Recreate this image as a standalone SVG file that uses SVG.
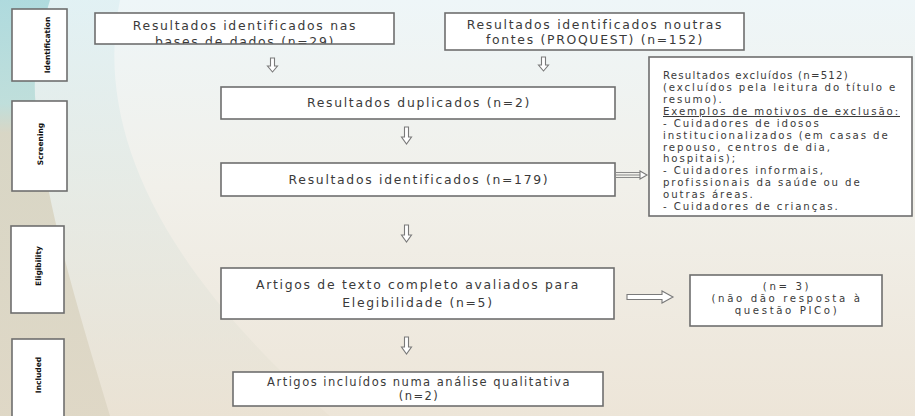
<svg xmlns="http://www.w3.org/2000/svg" width="915" height="416" viewBox="0 0 915 416">
<defs>
<linearGradient id="bg" x1="0" y1="0" x2="0" y2="1">
<stop offset="0" stop-color="#eef6f8"/>
<stop offset="0.45" stop-color="#f1f0ea"/>
<stop offset="1" stop-color="#ede5d8"/>
</linearGradient>
<linearGradient id="strip" x1="0" y1="0" x2="0" y2="1">
<stop offset="0" stop-color="#a6d6da"/>
<stop offset="0.25" stop-color="#b9dcd8"/>
<stop offset="0.32" stop-color="#d6d2bf"/>
<stop offset="1" stop-color="#ddd6c4"/>
</linearGradient>
<linearGradient id="wedge" x1="0" y1="0" x2="0" y2="1">
<stop offset="0" stop-color="#dceff2"/>
<stop offset="1" stop-color="#e9e1d2"/>
</linearGradient>
<clipPath id="c1"><rect x="95" y="14" width="298" height="29.5"/></clipPath>
<style>
.box{fill:#fff;stroke:#6e6e6e;stroke-width:1.6}
.t{font-family:"DejaVu Sans",sans-serif;font-size:12.4px;fill:#3a3a3a;letter-spacing:1.7px}
.ti{font-family:"DejaVu Sans",sans-serif;font-size:11.5px;fill:#3a3a3a;letter-spacing:1.5px}
.tl{font-family:"DejaVu Sans",sans-serif;font-size:10.2px;fill:#3a3a3a;letter-spacing:1.9px}
.ts{font-family:"DejaVu Sans",sans-serif;font-size:10.2px;fill:#3a3a3a;letter-spacing:2.6px}
.lab{font-family:"DejaVu Sans",sans-serif;font-size:7.5px;font-weight:bold;fill:#111}
.arr{fill:#fff;stroke:#7a7a7a;stroke-width:1.1}
</style>
</defs>
<rect width="915" height="416" fill="url(#bg)"/>
<path d="M0,0 L120,0 C95,120 150,260 330,416 L0,416 Z" fill="url(#wedge)" opacity="0.7"/>
<path d="M0,0 L50,0 C38,40 30,80 38,120 C45,200 75,300 110,416 L0,416 Z" fill="url(#strip)" opacity="0.85"/>

<g id="stage-identification">
<rect class="box" x="12" y="9" width="55" height="72"/>
<text class="lab" transform="translate(50,45) rotate(-90)" text-anchor="middle">Identification</text>
</g>
<g id="stage-screening">
<rect class="box" x="12" y="101" width="55" height="90"/>
<text class="lab" transform="translate(43,144) rotate(-90)" text-anchor="middle">Screening</text>
</g>
<g id="stage-eligibility">
<rect class="box" x="11" y="226" width="53" height="87"/>
<text class="lab" transform="translate(41,266) rotate(-90)" text-anchor="middle">Eligibility</text>
</g>
<g id="stage-included">
<rect class="box" x="12" y="339" width="52" height="82"/>
<text class="lab" transform="translate(41,375) rotate(-90)" text-anchor="middle">Included</text>
</g>

<g id="n-databases">
<rect class="box" x="95" y="13" width="299" height="31"/>
<text class="t" x="245" y="30" text-anchor="middle">Resultados identificados nas</text>
<text class="t" x="245" y="46" text-anchor="middle" clip-path="url(#c1)">bases de dados (n=29)</text>
</g>
<g id="n-other">
<rect class="box" x="445" y="13" width="299" height="37"/>
<text class="t" x="595" y="29" text-anchor="middle">Resultados identificados noutras</text>
<text class="t" x="595" y="44" text-anchor="middle">fontes (PROQUEST) (n=152)</text>
</g>
<g id="n-duplicates">
<rect class="box" x="221" y="87" width="394" height="32"/>
<text class="t" x="419" y="107" text-anchor="middle">Resultados duplicados (n=2)</text>
</g>
<g id="n-identified">
<rect class="box" x="221" y="163" width="394" height="33"/>
<text class="t" x="419" y="184" text-anchor="middle">Resultados identificados (n=179)</text>
</g>
<g id="n-excluded">
<rect class="box" x="649" y="57" width="263" height="159"/>
<text class="tl" x="663" y="79" style="letter-spacing:1.2px">Resultados excluídos (n=512)</text>
<text class="tl" x="663" y="91">(excluídos pela leitura do título e</text>
<text class="tl" x="663" y="103">resumo).</text>
<text class="tl" x="663" y="115" text-decoration="underline">Exemplos de motivos de exclusão:</text>
<text class="tl" x="663" y="127"> - Cuidadores de idosos</text>
<text class="tl" x="663" y="139">institucionalizados (em casas de</text>
<text class="tl" x="663" y="151">repouso, centros de dia,</text>
<text class="tl" x="663" y="162">hospitais);</text>
<text class="tl" x="663" y="174">- Cuidadores informais,</text>
<text class="tl" x="663" y="186">profissionais da saúde ou de</text>
<text class="tl" x="663" y="198">outras áreas.</text>
<text class="tl" x="663" y="210">- Cuidadores de crianças.</text>
</g>
<g id="n-fulltext">
<rect class="box" x="221" y="268" width="393" height="51"/>
<text class="t" x="418" y="289" text-anchor="middle">Artigos de texto completo avaliados para</text>
<text class="t" x="418" y="307" text-anchor="middle">Elegibilidade (n=5)</text>
</g>
<g id="n-noanswer">
<rect class="box" x="690" y="275" width="192" height="51"/>
<text class="ts" x="787" y="290" text-anchor="middle">(n= 3)</text>
<text class="ts" x="787" y="302" text-anchor="middle">(não dão resposta à</text>
<text class="ts" x="787" y="314" text-anchor="middle">questão PICo)</text>
</g>
<g id="n-included">
<rect class="box" x="233" y="372" width="370" height="34"/>
<text class="ti" x="419" y="386" text-anchor="middle">Artigos incluídos numa análise qualitativa</text>
<text class="ti" x="419" y="400" text-anchor="middle">(n=2)</text>
</g>

<g id="connectors">
<path class="arr" d="M270.5,58 h4 v8 h3 l-5,6 l-5,-6 h3 z"/>
<path class="arr" d="M541.5,57 h4 v8 h3 l-5,6 l-5,-6 h3 z"/>
<path class="arr" d="M404.5,127 h4 v10 h3 l-5,7 l-5,-7 h3 z"/>
<path class="arr" d="M404.5,225 h4 v10 h3 l-5,7 l-5,-7 h3 z"/>
<path class="arr" d="M404.5,337 h4 v10 h3 l-5,7 l-5,-7 h3 z"/>
<path d="M615,172.5 H640 M615,175 H640 M615,177.5 H640" fill="none" stroke="#8a8a8a" stroke-width="1"/>
<path class="arr" d="M640,171 l7,4 l-7,4 z"/>
<path class="arr" d="M627,294.5 h35 v-3.5 l11,6 l-11,6 v-3.5 h-35 z"/>
</g>
</svg>
